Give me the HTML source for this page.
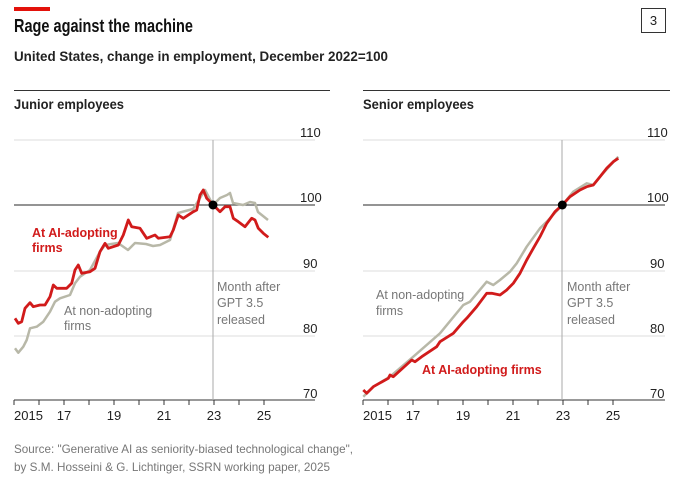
<!DOCTYPE html>
<html><head><meta charset="utf-8"><style>
body{margin:0;background:#fff;}
svg text{font-family:"Liberation Sans",sans-serif;}
</style></head><body>
<svg width="680" height="483" viewBox="0 0 680 483" xmlns="http://www.w3.org/2000/svg">
<rect width="680" height="483" fill="#fff"/>
<rect x="14" y="7" width="36" height="4" fill="#e3120b"/>
<text x="14" y="32" font-size="18" font-weight="bold" fill="#111" textLength="179" lengthAdjust="spacingAndGlyphs">Rage against the machine</text>
<text x="14" y="61" font-size="14" font-weight="bold" fill="#222" textLength="374" lengthAdjust="spacingAndGlyphs">United States, change in employment, December 2022=100</text>
<rect x="641.5" y="8.5" width="24" height="24" fill="none" stroke="#333" stroke-width="1"/>
<text x="653.5" y="25" font-size="13" text-anchor="middle" fill="#222">3</text>

<!-- left panel -->
<line x1="14" y1="90.5" x2="330" y2="90.5" stroke="#333" stroke-width="1"/>
<text x="14" y="109" font-size="13.5" font-weight="bold" fill="#222" textLength="110" lengthAdjust="spacingAndGlyphs">Junior employees</text>
<g stroke="#ddd" stroke-width="1">
<line x1="14" y1="140" x2="315" y2="140"/><line x1="14" y1="271" x2="315" y2="271"/><line x1="14" y1="336" x2="315" y2="336"/>
</g>
<line x1="14" y1="205" x2="315" y2="205" stroke="#555" stroke-width="1.3"/>
<line x1="14" y1="400" x2="315" y2="400" stroke="#333" stroke-width="1"/>
<line x1="213" y1="140" x2="213" y2="400" stroke="#aaa" stroke-width="1"/>
<g stroke="#333" stroke-width="1">
<line x1="14" y1="400" x2="14" y2="405"/><line x1="39" y1="400" x2="39" y2="405"/><line x1="64" y1="400" x2="64" y2="405"/><line x1="89" y1="400" x2="89" y2="405"/><line x1="114" y1="400" x2="114" y2="405"/><line x1="139" y1="400" x2="139" y2="405"/><line x1="164" y1="400" x2="164" y2="405"/><line x1="189" y1="400" x2="189" y2="405"/><line x1="214" y1="400" x2="214" y2="405"/><line x1="239" y1="400" x2="239" y2="405"/><line x1="264" y1="400" x2="264" y2="405"/>
</g>
<g font-size="13" fill="#222">
<text x="300" y="137">110</text><text x="300" y="202">100</text><text x="303" y="268">90</text><text x="303" y="333">80</text><text x="303" y="398">70</text>
<text x="14" y="420">2015</text><text x="64" y="420" text-anchor="middle">17</text><text x="114" y="420" text-anchor="middle">19</text><text x="164" y="420" text-anchor="middle">21</text><text x="214" y="420" text-anchor="middle">23</text><text x="264" y="420" text-anchor="middle">25</text>
</g>
<polyline fill="none" stroke="#b8b8a8" stroke-width="2.5" stroke-linejoin="round" points="15,348.3 18.3,352.7 23.3,346.7 26.7,340 30,328.3 36.7,326.7 43.3,321.7 50,311.7 55,301.7 60,298.3 70,295 75,283.3 80,276.7 90,270 100,251.7 105,245 118,243 128,250 135,243 146,244 153,246 160,245 170,240 178,213 193,209 200,198 205,190 213,205 220,198 227,195 230,193 233,203 243,205 250,202 255,203 258,212 268,220"/>
<polyline fill="none" stroke="#d11b1b" stroke-width="2.8" stroke-linejoin="round" points="15,318.3 18.3,323.3 21.7,321.7 25,308.3 30,302.7 33.3,306.7 40,305 45,305 50,296.7 53.3,285 56.7,288.3 66.7,288.3 71.7,283.3 75,270 78.3,265 81.7,273.3 90,271.7 95,268.3 100,251.7 105,243.3 108.3,248.3 118.3,245 123.3,235 128.3,220 131.7,226.7 140,228.3 146.7,238.3 155,235 158.3,238.3 170,236.7 173.3,230 178.3,215 183.3,218.3 193.3,211.7 196.7,210 200,195 203.3,190 206.7,198.3 213.3,205 220,211.7 225,206.7 230,206.7 233.3,218.3 238.3,221.7 245,226.7 251.7,218.3 255,220 258.3,228.3 263.3,233.3 268.3,237.3"/>
<circle cx="213" cy="205" r="4.5" fill="#000"/>
<g font-size="12.5" font-weight="bold" fill="#d11b1b"><text x="32" y="237">At AI-adopting</text><text x="32" y="252">firms</text></g>
<g font-size="12.5" fill="#777"><text x="64" y="315">At non-adopting</text><text x="64" y="330">firms</text>
<text x="217" y="291">Month after</text><text x="217" y="307">GPT 3.5</text><text x="217" y="324">released</text></g>

<!-- right panel -->
<line x1="363" y1="90.5" x2="670" y2="90.5" stroke="#333" stroke-width="1"/>
<text x="363" y="109" font-size="13.5" font-weight="bold" fill="#222" textLength="111" lengthAdjust="spacingAndGlyphs">Senior employees</text>
<g stroke="#ddd" stroke-width="1">
<line x1="363" y1="140" x2="665" y2="140"/><line x1="363" y1="271" x2="665" y2="271"/><line x1="363" y1="336" x2="665" y2="336"/>
</g>
<line x1="363" y1="205" x2="665" y2="205" stroke="#555" stroke-width="1.3"/>
<line x1="363" y1="400" x2="665" y2="400" stroke="#333" stroke-width="1"/>
<line x1="562" y1="140" x2="562" y2="400" stroke="#aaa" stroke-width="1"/>
<g stroke="#333" stroke-width="1">
<line x1="363" y1="400" x2="363" y2="405"/><line x1="388" y1="400" x2="388" y2="405"/><line x1="413" y1="400" x2="413" y2="405"/><line x1="438" y1="400" x2="438" y2="405"/><line x1="463" y1="400" x2="463" y2="405"/><line x1="488" y1="400" x2="488" y2="405"/><line x1="513" y1="400" x2="513" y2="405"/><line x1="538" y1="400" x2="538" y2="405"/><line x1="563" y1="400" x2="563" y2="405"/><line x1="588" y1="400" x2="588" y2="405"/><line x1="613" y1="400" x2="613" y2="405"/>
</g>
<g font-size="13" fill="#222">
<text x="647" y="137">110</text><text x="647" y="202">100</text><text x="650" y="268">90</text><text x="650" y="333">80</text><text x="650" y="398">70</text>
<text x="363" y="420">2015</text><text x="413" y="420" text-anchor="middle">17</text><text x="463" y="420" text-anchor="middle">19</text><text x="513" y="420" text-anchor="middle">21</text><text x="563" y="420" text-anchor="middle">23</text><text x="613" y="420" text-anchor="middle">25</text>
</g>
<polyline fill="none" stroke="#b8b8a8" stroke-width="2.5" stroke-linejoin="round" points="363.3,396.7 373.3,386.7 390,376.7 413.3,356.7 440,333.3 463.3,305 470,301.7 486.7,281.7 493.3,285 500,280 510,271.7 516.7,263.3 526.7,246.7 540,228.3 546.7,221.7 562.3,205 573.3,191.7 586.7,183.3 593.3,185 600,176.7 618.3,156.7"/>
<polyline fill="none" stroke="#d11b1b" stroke-width="2.8" stroke-linejoin="round" points="363.3,390 366.7,393.3 373.3,386.7 388.3,378.3 390,375 393.3,376.7 411.7,360 415,361.7 421.7,356.7 436.7,346.7 440,341.7 453.3,333.3 463.3,321.7 466.7,318.3 476.7,306.7 486.7,293.3 491.7,293.3 500,295 506.7,290 513.3,283.3 520,273.3 526.7,260 533.3,248.3 540,236.7 546.7,223.3 555,211.7 562.3,205 570,196.7 580,190 586.7,186.7 593.3,185 600,176.7 606.7,168.3 613.3,161.7 618.3,158.3"/>
<circle cx="562.3" cy="205" r="4.5" fill="#000"/>
<g font-size="12.5" fill="#777"><text x="376" y="299">At non-adopting</text><text x="376" y="315">firms</text>
<text x="567" y="291">Month after</text><text x="567" y="307">GPT 3.5</text><text x="567" y="324">released</text></g>
<text x="422" y="374" font-size="12.5" font-weight="bold" fill="#d11b1b">At AI-adopting firms</text>

<g font-size="12" fill="#777"><text x="14" y="453" textLength="339" lengthAdjust="spacingAndGlyphs">Source: "Generative AI as seniority-biased technological change",</text><text x="14" y="471" textLength="316" lengthAdjust="spacingAndGlyphs">by S.M. Hosseini &amp; G. Lichtinger, SSRN working paper, 2025</text></g>
</svg>
</body></html>
